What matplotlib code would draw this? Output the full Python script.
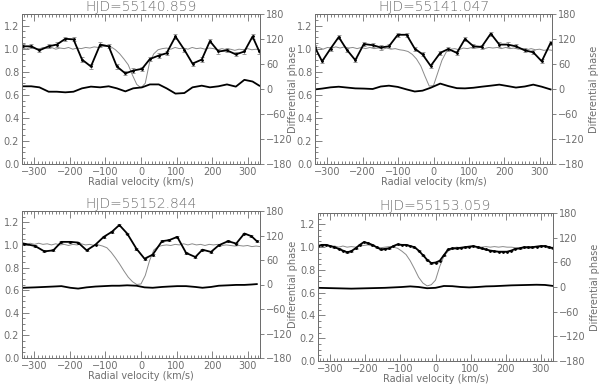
import numpy as np
import matplotlib
matplotlib.use('Agg')
import matplotlib.pyplot as plt
from matplotlib.ticker import MultipleLocator

################################### Data ###################################

titles = ['HJD=55140.859', 'HJD=55141.047', 'HJD=55152.844', 'HJD=55153.059']

# shared velocity grid of the flux profile (km/s)
vgrid = [-336, -324, -312, -300, -288, -276, -264, -252, -240, -228, -216, -204,
         -192, -180, -168, -156, -144, -132, -120, -108, -96, -84, -72, -60, -48,
         -36, -24, -12, 0, 12, 24, 36, 48, 60, 72, 84, 96, 108, 120, 132, 144, 156,
         168, 180, 192, 204, 216, 228, 240, 252, 264, 276, 288, 300, 312, 324, 336]

flux1 = [1.005, 0.995, 1.01, 1.0, 0.995, 1.01, 1.0, 1.01, 0.995, 1.005, 1.0, 1.01,
         0.995, 1.005, 1.0, 1.01, 1.005, 1.015, 1.01, 1.02, 1.02, 1.015, 0.99, 0.955,
         0.91, 0.86, 0.77, 0.69, 0.66, 0.70, 0.88, 0.955, 0.99, 1.0, 1.005, 0.995,
         1.01, 1.0, 1.005, 0.995, 1.01, 1.0, 1.005, 0.995, 1.005, 1.0, 0.99, 1.0,
         0.99, 0.995, 0.985, 0.995, 0.99, 1.0, 0.99, 0.995, 0.985]
flux2 = [1.0, 1.01, 0.995, 1.01, 1.005, 1.015, 1.005, 1.015, 1.005, 1.01, 1.0, 1.01,
         1.0, 1.01, 1.0, 1.005, 0.995, 1.005, 0.995, 1.0, 0.99, 0.985, 0.975, 0.95,
         0.91, 0.85, 0.76, 0.675, 0.68, 0.79, 0.90, 0.97, 0.995, 1.0, 0.99, 1.005,
         1.0, 1.01, 1.005, 1.01, 1.0, 1.01, 1.005, 1.01, 1.0, 1.01, 1.0, 1.005,
         0.995, 1.0, 0.99, 1.0, 0.99, 0.995, 0.985, 0.99, 0.985]
flux3 = [1.01, 1.0, 1.015, 1.005, 1.015, 1.005, 1.01, 1.0, 1.01, 1.0, 1.005, 0.995,
         1.005, 1.0, 1.01, 1.0, 1.005, 0.995, 1.0, 0.99, 0.975, 0.935, 0.885, 0.83,
         0.77, 0.715, 0.675, 0.65, 0.655, 0.73, 0.86, 0.955, 0.985, 0.995, 1.0, 0.995,
         1.005, 1.0, 1.01, 1.0, 1.01, 1.0, 1.005, 0.995, 1.005, 1.0, 1.005, 0.995,
         1.0, 0.995, 0.99, 0.995, 0.99, 0.995, 0.985, 0.99, 0.985]
flux4 = [1.01, 1.005, 1.015, 1.005, 1.01, 1.0, 1.01, 1.0, 1.005, 1.0, 1.01, 1.015,
         1.02, 1.01, 1.0, 0.995, 1.0, 1.005, 1.0, 0.99, 0.965, 0.935, 0.88, 0.81,
         0.735, 0.685, 0.66, 0.67, 0.71, 0.83, 0.92, 0.965, 0.99, 1.0, 0.995, 1.0,
         1.005, 1.0, 1.005, 1.0, 1.005, 1.0, 1.005, 1.0, 1.005, 1.0, 1.0, 0.995,
         0.99, 0.995, 1.0, 0.995, 1.005, 1.0, 1.005, 0.995, 1.0]

# visibility / differential phase, panel 1
v1 = [-333, -309, -286, -260, -237, -213, -190, -166, -141, -115, -91, -68, -44, -22,
      3, 25, 50, 72, 97, 122, 145, 171, 194, 218, 242, 267, 291, 314, 333]
vis1 = [1.02, 1.02, 0.985, 1.02, 1.035, 1.085, 1.08, 0.905, 0.845, 1.035, 1.02, 0.845,
        0.785, 0.81, 0.825, 0.91, 0.94, 0.96, 1.105, 0.99, 0.87, 0.905, 1.065, 0.975,
        0.985, 0.95, 0.975, 1.105, 0.975]
phi1 = [6.5, 6.5, 4, -6.5, -6.5, -8, -6.5, 1.6, 5.7, 4, 6.5, 1.6, -5.7, 1.6, 4, 11, 11,
        1.6, -11, -9.7, 4, 8, 4, 6.5, 11, 5.7, 22, 18, 8]

# panel 2
v2 = [-335, -315, -291, -268, -245, -221, -197, -172, -149, -126, -101, -76, -53, -31,
      -8, 19, 42, 66, 89, 113, 136, 162, 186, 210, 233, 258, 282, 306, 331]
vis2 = [1.01, 0.89, 1.0, 1.10, 0.99, 0.90, 1.04, 1.03, 1.01, 1.02, 1.12, 1.12, 1.0,
        0.95, 0.85, 0.963, 0.997, 0.963, 1.084, 1.02, 1.015, 1.13, 1.035, 1.035, 1.02,
        0.985, 0.968, 0.89, 1.05]
phi2 = [-1, 1, 4, 5.5, 3.5, 1.5, 1, 0, 6, 8, 5, -1, -6, -4, 3, 13, 7, 2, 1.5, 3, 5.5,
        8, 10.5, 7, 3.5, 6, 10.5, 5.5, -1]

# panel 3
v3 = [-330, -298, -272, -247, -224, -199, -177, -153, -128, -105, -82, -61, -39, -13,
      10, 33, 59, 79, 102, 127, 153, 173, 197, 219, 245, 268, 291, 311, 326]
vis3 = [1.012, 0.99, 0.943, 0.952, 1.027, 1.027, 1.021, 0.952, 1.003, 1.071, 1.116,
        1.176, 1.101, 0.967, 0.878, 0.914, 1.033, 1.042, 1.071, 0.929, 0.893, 0.958,
        0.938, 0.997, 1.033, 1.012, 1.101, 1.077, 1.033]
phi3 = [-8, -7, -6, -5, -4, -8, -10, -7, -5, -4, -3, -3, -2, -3, -7, -8, -6, -5, -4, -4,
        -6, -8, -6, -3, -2, -1, -1, 0, 1]

# panel 4 (visibility on the fine grid, phase on every second grid point)
vis4 = [1.01, 1.02, 1.02, 1.01, 1.0, 0.985, 0.97, 0.955, 0.965, 0.99, 1.02, 1.045,
        1.035, 1.02, 1.0, 0.98, 0.985, 0.99, 1.01, 1.025, 1.02, 1.02, 1.01, 1.0, 0.97,
        0.93, 0.89, 0.86, 0.865, 0.88, 0.93, 0.98, 0.99, 0.99, 0.995, 1.0, 1.005, 1.01,
        1.0, 0.99, 0.98, 0.97, 0.965, 0.96, 0.96, 0.96, 0.97, 0.985, 0.99, 1.0, 1.0,
        1.0, 1.005, 1.01, 1.01, 1.0, 0.99]
v4p = vgrid[::2]
phi4 = [-2, -2.5, -3, -3.5, -4, -3.5, -3, -2.5, -2, -1, 0, 1.5, 0, -3, -2, 2.5, 2, 0,
        -1, 0, 1.5, 2, 3, 4, 4.5, 5, 5.5, 5, 2.5]

err1 = 0.018
err2 = 0.018
err3 = 0.008
err4 = 0.004

panels = [
    (titles[0], v1, vis1, err1, v1, phi1, flux1),
    (titles[1], v2, vis2, err2, v2, phi2, flux2),
    (titles[2], v3, vis3, err3, v3, phi3, flux3),
    (titles[3], vgrid, vis4, err4, v4p, phi4, flux4),
]

# axes boxes in pixels (left, top, right, bottom) of a 600x386 figure
boxes = [(22, 14, 260, 164), (315, 14, 552, 164),
         (22, 211, 260, 358), (318, 213, 553, 361)]
# distance of the right-hand label from the right spine (px)
label_off = [28, 37, 28, 37]

#################################### Plot ####################################

W, H = 600, 386
grey = '#6e6e6e'
plt.rcParams['font.family'] = 'DejaVu Sans'

fig = plt.figure(figsize=(W / 100, H / 100), dpi=100)

for (title, v, vis, err, vp, phi, flux), (l, t, r, b), off in zip(panels, boxes, label_off):
    ax = fig.add_axes([l / W, (H - b) / H, (r - l) / W, (b - t) / H])
    ax2 = ax.twinx()

    ax.plot(vgrid, flux, color='#8a8a8a', lw=0.7)
    ax.errorbar(v, vis, yerr=err, color='black', lw=1.3, marker='.', ms=2,
                ecolor='#8a8a8a', elinewidth=0.6, capsize=1.5, capthick=0.6)
    ax2.plot(vp, phi, color='black', lw=1.3)

    ax.set_xlim(-335, 335)
    ax.set_ylim(0, 1.3)
    ax2.set_ylim(-180, 180)

    ax.xaxis.set_major_locator(MultipleLocator(100))
    ax.xaxis.set_minor_locator(MultipleLocator(10))
    ax.yaxis.set_minor_locator(MultipleLocator(0.05))
    ax.set_yticks(np.arange(0, 1.21, 0.2))
    ax.yaxis.set_major_formatter(plt.FormatStrFormatter('%.1f'))
    ax2.set_yticks(np.arange(-180, 181, 60))

    ax.tick_params(which='both', direction='in', top=True, right=False,
                   colors=grey, labelsize=7, width=0.6, pad=2)
    ax.tick_params(which='major', length=5)
    ax.tick_params(which='minor', length=2.5)
    ax2.tick_params(which='both', direction='out', colors=grey, labelsize=7,
                    width=0.6, length=3, pad=1.5)

    for a in (ax, ax2):
        for s in a.spines.values():
            s.set_color(grey)
            s.set_linewidth(0.7)

    ax.set_title(title, color=grey, fontsize=10, pad=1, fontweight='light')
    ax.set_xlabel('Radial velocity (km/s)', color=grey, fontsize=7, labelpad=0)
    ax2.set_ylabel('Differential phase', color=grey, fontsize=7)
    ax2.yaxis.set_label_coords(1.0 + off / (r - l), 0.5)

fig.savefig('out.png', dpi=100)
